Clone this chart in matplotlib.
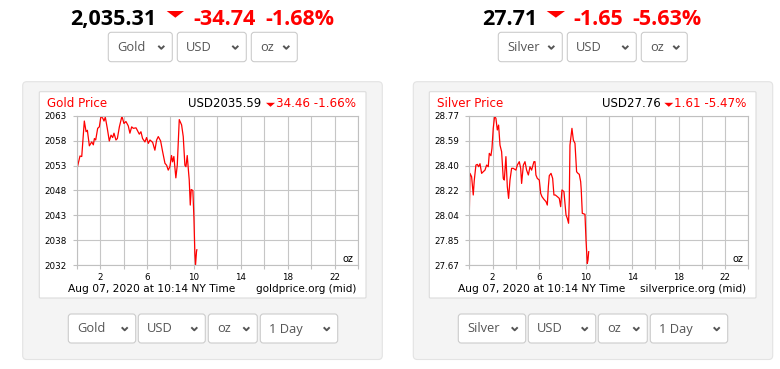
import matplotlib.pyplot as plt
from matplotlib.patches import FancyBboxPatch, Polygon
import numpy as np

# dados (hora de NY, preco por onca)
gold_hours = [0.00, 0.28, 0.43, 0.65, 0.80, 0.91, 1.08, 1.28, 1.42, 1.51, 1.62, 1.79,
              1.93, 2.07, 2.22, 2.33, 2.44, 2.61, 2.78, 2.93, 3.07, 3.18, 3.35, 3.47,
              3.64, 3.86, 4.03, 4.20, 4.40, 4.54, 4.69, 4.83, 5.06, 5.17, 5.34, 5.48,
              5.62, 5.82, 5.96, 6.11, 6.25, 6.48, 6.67, 6.82, 6.96, 7.16, 7.33, 7.53,
              7.67, 7.81, 7.95, 8.09, 8.18, 8.29, 8.46, 8.58, 8.75, 8.95, 9.09, 9.23,
              9.32, 9.43, 9.54, 9.60, 9.69, 9.77, 9.91, 10.00, 10.08, 10.14, 10.22, 10.25]
gold_prices = [2052.0, 2054.9, 2054.8, 2062.1, 2059.9, 2060.2, 2057.0, 2057.8, 2057.2, 2058.5,
               2058.2, 2060.6, 2060.9, 2063.1, 2062.7, 2062.1, 2062.9, 2060.6, 2058.0, 2059.2,
               2058.7, 2059.6, 2058.2, 2058.5, 2060.9, 2063.1, 2061.6, 2062.0, 2061.1, 2059.6,
               2060.9, 2060.6, 2060.7, 2060.2, 2059.4, 2059.9, 2058.5, 2057.8, 2058.7, 2057.5,
               2058.2, 2057.7, 2056.1, 2058.2, 2058.9, 2058.0, 2055.8, 2053.4, 2053.0, 2052.0,
               2052.7, 2055.0, 2053.7, 2054.8, 2050.4, 2053.0, 2062.4, 2061.3, 2058.9, 2053.0,
               2052.7, 2055.0, 2051.7, 2050.0, 2044.8, 2048.0, 2047.8, 2042.3, 2034.9, 2032.5,
               2035.2, 2035.6]

silver_hours = [0.00, 0.06, 0.20, 0.34, 0.43, 0.57, 0.69, 0.80, 0.92, 1.06, 1.20, 1.35,
                1.49, 1.63, 1.72, 1.86, 1.95, 2.06, 2.18, 2.29, 2.41, 2.52, 2.64, 2.78,
                2.92, 3.01, 3.15, 3.27, 3.38, 3.50, 3.64, 3.78, 4.01, 4.13, 4.30, 4.42,
                4.50, 4.65, 4.79, 4.93, 5.08, 5.22, 5.36, 5.56, 5.65, 5.73, 5.85, 6.02,
                6.14, 6.25, 6.42, 6.60, 6.71, 6.80, 6.88, 7.03, 7.17, 7.28, 7.40, 7.57,
                7.74, 7.86, 7.97, 8.14, 8.32, 8.43, 8.54, 8.60, 8.66, 8.83, 8.95, 9.09,
                9.23, 9.35, 9.46, 9.58, 9.63, 9.72, 9.95, 10.04, 10.15, 10.21, 10.27]
silver_prices = [28.052, 28.346, 28.321, 28.187, 28.297, 28.407, 28.412, 28.395, 28.417, 28.346,
                 28.358, 28.370, 28.407, 28.395, 28.493, 28.476, 28.530, 28.677, 28.768, 28.750,
                 28.665, 28.701, 28.554, 28.505, 28.309, 28.297, 28.469, 28.248, 28.162, 28.297,
                 28.383, 28.383, 28.370, 28.407, 28.432, 28.383, 28.272, 28.407, 28.432, 28.370,
                 28.334, 28.395, 28.370, 28.432, 28.432, 28.334, 28.309, 28.297, 28.199, 28.175,
                 28.155, 28.138, 28.113, 28.248, 28.329, 28.346, 28.309, 28.187, 28.187, 28.175,
                 28.162, 28.101, 28.224, 28.212, 28.040, 28.015, 27.979, 28.150, 28.554, 28.677,
                 28.591, 28.567, 28.358, 28.346, 28.339, 28.285, 28.224, 28.052, 28.045, 27.856,
                 27.684, 27.709, 27.770]

gold_ylim = (2032.4, 2063.2)
silver_ylim = (27.67, 28.77)
gold_yticklabels = ['2032', '2038', '2043', '2048', '2053', '2058', '2063']
silver_yticklabels = ['27.67', '27.85', '28.04', '28.22', '28.40', '28.59', '28.77']
hour_labels = [2, 6, 10, 14, 18, 22]

VERMELHO = '#ff0000'
CINZA_TXT = '#555555'

fig = plt.figure(figsize=(7.8, 3.69), dpi=100)
fig.patch.set_facecolor('white')

# eixo de fundo em pixels (y para baixo)
bg = fig.add_axes([0, 0, 1, 1])
bg.set_xlim(0, 780)
bg.set_ylim(369, 0)
bg.axis('off')


def caixa(x0, y0, x1, y1, face, edge, r=3, lw=0.8):
    bg.add_patch(FancyBboxPatch((x0, y0), x1 - x0, y1 - y0,
                                boxstyle='round,pad=0,rounding_size=%g' % r,
                                facecolor=face, edgecolor=edge, linewidth=lw))


def triangulo(x0, x1, y0, y1, cor=VERMELHO):
    bg.add_patch(Polygon([(x0, y0), (x1, y0), ((x0 + x1) / 2, y1)],
                         closed=True, facecolor=cor, edgecolor='none'))


def dropdown(x0, x1, y0, y1, texto):
    caixa(x0, y0, x1, y1, 'white', '#cccccc', r=3)
    yc = (y0 + y1) / 2
    bg.text(x0 + 9, yc + 0.5, texto, fontsize=9.3, family='Open Sans',
            color=CINZA_TXT, ha='left', va='center')
    cx = x1 - 11
    bg.plot([cx - 3, cx, cx + 3], [yc - 1.2, yc + 1.8, yc - 1.2],
            color=CINZA_TXT, lw=1.4, solid_capstyle='butt')


def cabecalho(xs, valor, var, pct):
    # xs: posicoes esquerdas das partes e do triangulo
    bg.text(xs[0], 25, valor, fontsize=15.5, family='Open Sans',
            fontweight='bold', color='black', ha='left', va='baseline')
    triangulo(xs[1], xs[2], 11, 17.7)
    bg.text(xs[3], 25, var, fontsize=15.5, family='Open Sans',
            fontweight='bold', color=VERMELHO, ha='left', va='baseline')
    bg.text(xs[4], 25, pct, fontsize=15.5, family='Open Sans',
            fontweight='bold', color=VERMELHO, ha='left', va='baseline')


def painel(ox, titulo, usd, resto, site, horas, precos, ylim, ylabels,
           metal, ax_left, ax_right, axtxt_x0, usd_x0, tri_x, drops):
    # caixa cinza e caixa branca
    caixa(ox[0], 81.7, ox[1], 359.5, '#f4f4f4', '#e3e3e3', r=4)
    caixa(ox[2], 91.7, ox[3], 298, 'white', '#dcdcdc', r=1)

    bg.text(axtxt_x0, 107, titulo, fontsize=8.6, color=VERMELHO,
            ha='left', va='baseline')
    bg.text(usd_x0, 107, usd, fontsize=8.5, color='black', ha='left', va='baseline')
    triangulo(tri_x[0], tri_x[1], 102.8, 106.8)
    bg.text(tri_x[1] + 0.5, 107, resto, fontsize=8.6, color=VERMELHO,
            ha='left', va='baseline')

    top, bottom = 115.7, 265.3
    ax = fig.add_axes([ax_left / 780, 1 - bottom / 369,
                       (ax_right - ax_left) / 780, (bottom - top) / 369])
    ax.plot(horas, precos, color=VERMELHO, lw=0.9)
    ax.set_xlim(0, 24)
    ax.set_ylim(*ylim)
    ax.set_xticks(range(0, 25, 2))
    ax.set_xticklabels(['' if h not in hour_labels else str(h) for h in range(0, 25, 2)])
    ax.set_yticks(np.linspace(ylim[0], ylim[1], 7))
    ax.set_yticklabels(ylabels)
    ax.grid(True, color='#c6c6c6', lw=0.8)
    for s in ax.spines.values():
        s.set_color('#c0c0c0')
        s.set_linewidth(0.8)
    ax.tick_params(axis='x', length=3, width=0.8, color='#c0c0c0', pad=2.6,
                   labelsize=6.3, labelcolor='black')
    ax.tick_params(axis='y', length=3, width=0.8, color='#c0c0c0', pad=4.0,
                   labelsize=6.3, labelcolor='black')
    ax.set_facecolor('none')

    bg.text(ax_right - 5, 262, 'oz', fontsize=7, color='black',
            ha='right', va='baseline')
    bg.text(ox[2] + 29, 292, 'Aug 07, 2020 at 10:14 NY Time', fontsize=7.7,
            color='black', ha='left', va='baseline')
    bg.text(ox[3] - 10, 292, site, fontsize=7.5, color='black',
            ha='right', va='baseline')

    for (x0, x1), txt in zip(drops, [metal, 'USD', 'oz', '1 Day']):
        dropdown(x0, x1, 314, 343, txt)


# cabecalhos grandes
cabecalho([70, 166.7, 184, 193, 265], '2,035.31', '-34.74', '-1.68%')
cabecalho([482, 546.7, 565, 573.3, 632.7], '27.71', '-1.65', '-5.63%')

# dropdowns de cima
for (x0, x1), txt in zip([(108.3, 172.3), (177.3, 246.3), (251.3, 297.3)], ['Gold', 'USD', 'oz']):
    dropdown(x0, x1, 32.3, 61.7, txt)
for (x0, x1), txt in zip([(498.3, 562.3), (567.3, 636.3), (641.3, 687.3)], ['Silver', 'USD', 'oz']):
    dropdown(x0, x1, 32.3, 61.7, txt)

painel((22.7, 382.3, 39.3, 366), 'Gold Price', 'USD2035.59', '34.46 -1.66%',
       'goldprice.org (mid)', gold_hours, gold_prices, gold_ylim, gold_yticklabels,
       'Gold', 76.7, 358, 46.7, 188.3, (266, 275),
       [(68.3, 135.7), (138.3, 205.3), (208.3, 257.3), (260.3, 337.7)])

painel((413.3, 772.7, 429.3, 756), 'Silver Price', 'USD27.76', '1.61 -5.47%',
       'silverprice.org (mid)', silver_hours, silver_prices, silver_ylim, silver_yticklabels,
       'Silver', 469.3, 748.3, 436.7, 602.3, (664.3, 673.3),
       [(458.3, 525.7), (528.3, 595.7), (598.3, 647.3), (650.3, 727.7)])

fig.savefig('out.png', dpi=100)
